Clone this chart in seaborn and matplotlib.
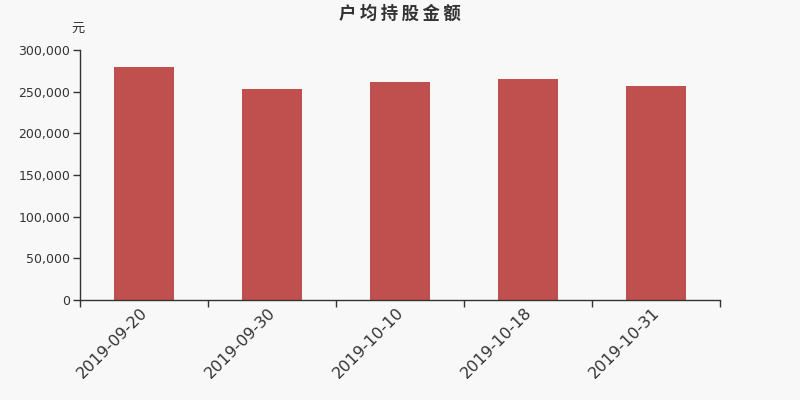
import matplotlib
matplotlib.use("Agg")
import matplotlib.pyplot as plt
import matplotlib.transforms as mtransforms
import seaborn as sns
import pandas as pd
import numpy as np
from matplotlib.ticker import FuncFormatter, FixedLocator

categories = ["2019-09-20", "2019-09-30", "2019-10-10", "2019-10-18", "2019-10-31"]
values = [279600, 253200, 261600, 265200, 256800]

sns.set_theme(style="white")
plt.rcParams['font.family'] = ['DejaVu Sans', 'Noto Sans CJK SC']

df = pd.DataFrame({"date": categories, "value": values})

fig = plt.figure(figsize=(8, 4), dpi=100, facecolor="#f8f8f8")
ax = fig.add_axes([0.1, 0.25, 0.8, 0.625])
ax.set_facecolor("#f8f8f8")
sns.barplot(data=df, x="date", y="value", color="#c0504d", saturation=1, width=0.47,
            linewidth=0, edgecolor="none", ax=ax)

ax.set_xlim(-0.5, 4.5)
ax.set_ylim(0, 300000)
ax.set_yticks(np.arange(0, 300001, 50000))
ax.yaxis.set_major_formatter(FuncFormatter(lambda v, p: f"{int(v):,}"))
ax.set_xlabel("")
ax.set_ylabel("")

ax.set_xticks(range(len(categories)))
ax.set_xticklabels(categories, rotation=45, ha="right", rotation_mode="anchor", fontsize=11.5, color="#333333")
ax.xaxis.set_minor_locator(FixedLocator(np.arange(-0.5, 5, 1)))
ax.tick_params(axis="x", which="major", length=0, pad=5)
ax.tick_params(axis="x", which="minor", length=5, width=1, color="#333333", bottom=True)
ax.tick_params(axis="y", length=5, width=1, color="#333333", left=True, labelsize=9, labelcolor="#333333", pad=2)
offset = mtransforms.ScaledTranslation(-4 / 100, 2 / 100, fig.dpi_scale_trans)
for lbl in ax.get_xticklabels():
    lbl.set_transform(lbl.get_transform() + offset)

for s in ["top", "right"]:
    ax.spines[s].set_visible(False)
for s in ["left", "bottom"]:
    ax.spines[s].set_color("#333333")
    ax.spines[s].set_linewidth(1)

fig.text(0.5, 0.965, "\u2009".join("户均持股金额"), ha="center", va="center", fontsize=12.5, fontweight="bold",
         color="#333333", family=["Noto Sans CJK SC", "DejaVu Sans"])
fig.text(0.098, 0.93, "元", ha="center", va="center", fontsize=9.5, color="#333333",
         family=["Noto Sans CJK SC", "DejaVu Sans"])

fig.savefig("out.png", dpi=100, facecolor=fig.get_facecolor())
